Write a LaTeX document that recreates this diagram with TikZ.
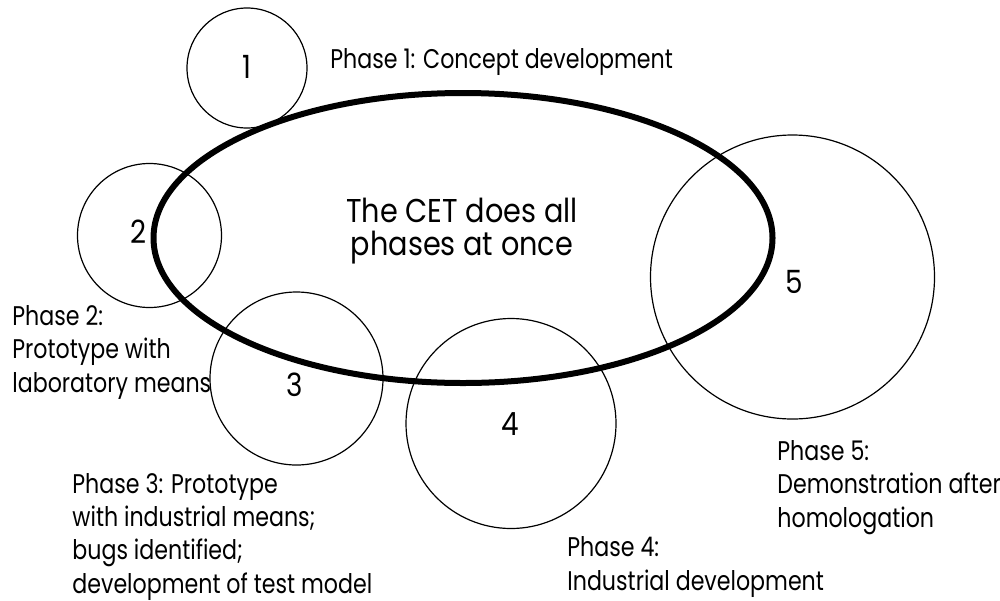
\documentclass[tikz,border=0pt]{standalone}
\usepackage{fontspec}
\setmainfont{Poppins}[FakeStretch=0.87]
\newfontfamily\lblfont{Poppins}[FakeStretch=0.82]
\usetikzlibrary{shapes.geometric}
\begin{document}
\begin{tikzpicture}[x=0.5pt,y=-0.5pt,
  phase/.style={circle, draw, line width=0.6pt, inner sep=0pt},
  num/.style={inner sep=0pt, font=\fontsize{16}{20}\selectfont},
  lbl/.style={anchor=base west, align=left, inner sep=0pt, font=\lblfont\fontsize{13.5}{16.6}\selectfont},
  cetbox/.style={ellipse, draw, line width=3pt, inner sep=0pt},
]
\useasboundingbox (0,0) rectangle (1000,600);
% main ellipse
\node[cetbox, minimum width=309.5pt, minimum height=145pt] (cet) at (463,238) {};
\node[align=center, inner sep=0pt, font=\fontsize{16.5}{16.5}\selectfont] (cettext) at (462,231) {The CET does all\\phases at once};
% phase circles
\node[phase, minimum size=60pt] (c1) at (247,68) {};
\node[phase, minimum size=72pt] (c2) at (149.5,235.5) {};
\node[phase, minimum size=86.5pt] (c3) at (296.5,378.5) {};
\node[phase, minimum size=105pt] (c4) at (511,423.5) {};
\node[phase, minimum size=142pt] (c5) at (792.5,277) {};
% numbers
\node[num] (n1) at (247,67) {1};
\node[num] (n2) at (139,232) {2};
\node[num] (n3) at (295,385) {3};
\node[num] (n4) at (510,424) {4};
\node[num] (n5) at (794,282) {5};
% labels (anchored at the baseline of the last line)
\node[lbl] (l1) at (330,68) {Phase 1: Concept development};
\node[lbl] (l2) at (12,392) {Phase 2:\\Prototype with\\laboratory means};
\node[lbl] (l3) at (72,593) {Phase 3: Prototype\\with industrial means;\\bugs identified;\\development of test model};
\node[lbl] (l4) at (567,590) {Phase 4:\\Industrial development};
\node[lbl] (l5) at (777,527) {Phase 5:\\Demonstration after\\homologation};
\end{tikzpicture}
\end{document}
